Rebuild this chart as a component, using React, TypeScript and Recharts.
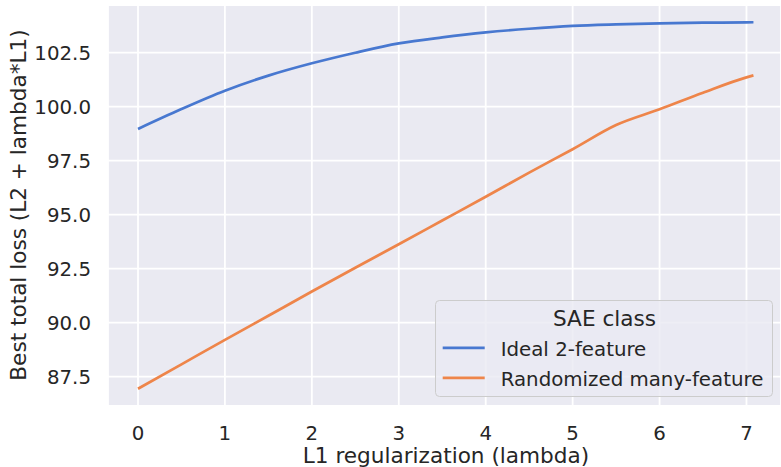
import { LineChart, Line, XAxis, YAxis, CartesianGrid, Legend } from "recharts";

// lambda values and best total loss per SAE class
const lambdas = [0, 0.5, 1, 1.5, 2, 2.5, 3, 3.5, 4, 4.5, 5, 5.5, 6, 6.5, 7, 7.08];
const ideal = [98.97, 99.89, 100.74, 101.44, 102.01, 102.5, 102.93, 103.21, 103.44, 103.61, 103.74, 103.81, 103.86, 103.89, 103.905, 103.91];
const randomized = [86.94, 88.07, 89.2, 90.32, 91.44, 92.54, 93.63, 94.73, 95.83, 96.95, 98.03, 99.15, 99.88, 100.65, 101.36, 101.45];

const xTicks = [0, 1, 2, 3, 4, 5, 6, 7];
const yTicks = [87.5, 90, 92.5, 95, 97.5, 100, 102.5];

const TEXT = "#262626";
const BLUE = "#4878d0";
const ORANGE = "#ee854a";

const data = lambdas.map((l, i) => ({ lambda: l, ideal: ideal[i], randomized: randomized[i] }));

function SaeLegend(props: any) {
  const items = props.payload || [];
  return (
    <svg width={338} height={97} style={{ display: "block", fontFamily: "DejaVu Sans" }}>
      <rect x={0.5} y={0.5} width={337} height={96} rx={4} fill="#eaeaf2" fillOpacity={0.8} stroke="#cccccc" />
      <text x={169.5} y={25.5} textAnchor="middle" fontSize={21.6} fill={TEXT}>SAE class</text>
      {items.map((it: any, i: number) => (
        <g key={it.value}>
          <line x1={7.7} x2={49.7} y1={47.8 + 30 * i} y2={47.8 + 30 * i} stroke={it.color} strokeWidth={2.7} />
          <text x={65.7} y={55.5 + 30 * i} fontSize={19.8} fill={TEXT}>{it.value}</text>
        </g>
      ))}
    </svg>
  );
}

export default function App() {
  return (
    <div style={{ position: "absolute", left: 0, top: 0, width: 781, height: 467, background: "#fff", overflow: "hidden" }}>
      <LineChart width={781} height={467} data={data} margin={{ top: 5, right: 0, bottom: 0, left: 0 }} style={{ fontFamily: "DejaVu Sans" }}>
        <CartesianGrid fill="#eaeaf2" fillOpacity={1} stroke="#ffffff" strokeWidth={1.8} />
        <XAxis
          dataKey="lambda" type="number" domain={[-0.345, 7.397]} ticks={xTicks} interval={0} allowDataOverflow
          axisLine={false} tickLine={false} tickSize={0} tickMargin={20} height={61}
          tick={{ fill: TEXT, fontSize: 19.8 }}
          label={{
            content: () => (
              <text x={446} y={463.3} textAnchor="middle" fontSize={21.6} fill={TEXT}>L1 regularization (lambda)</text>
            ),
          }}
        />
        <YAxis
          type="number" domain={[86.14, 104.71]} ticks={yTicks} interval={0} allowDataOverflow
          axisLine={false} tickLine={false} tickSize={0} tickMargin={17} width={108}
          tick={{ fill: TEXT, fontSize: 19.8 }}
          tickFormatter={(v: number) => v.toFixed(1)}
          label={{
            content: () => (
              <text x={25.7} y={205} transform="rotate(-90, 25.7, 205)" textAnchor="middle" fontSize={21.6} fill={TEXT}>
                Best total loss (L2 + lambda*L1)
              </text>
            ),
          }}
        />
        <Line type="monotone" dataKey="ideal" name="Ideal 2-feature" stroke={BLUE} strokeWidth={2.7} dot={false} isAnimationActive={false} />
        <Line type="monotone" dataKey="randomized" name="Randomized many-feature" stroke={ORANGE} strokeWidth={2.7} dot={false} isAnimationActive={false} />
        <Legend
          layout="horizontal" verticalAlign="middle" align="center"
          wrapperStyle={{ left: 435, top: 299.5, width: 338, height: 97 }}
          content={SaeLegend}
        />
      </LineChart>
    </div>
  );
}
